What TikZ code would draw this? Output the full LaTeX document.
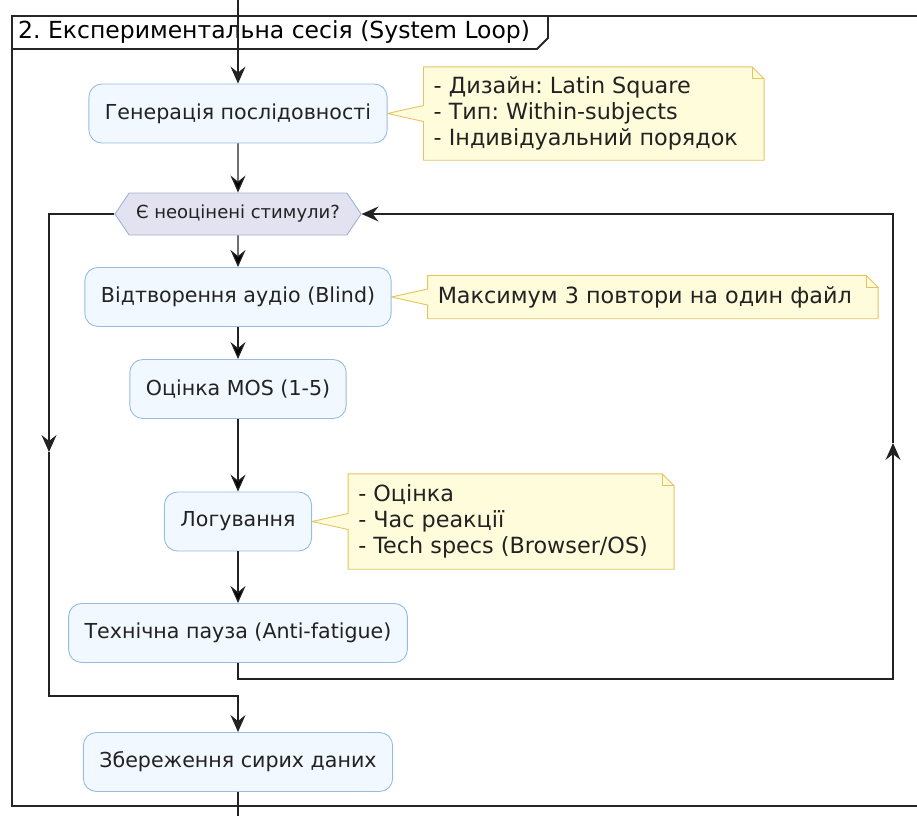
\documentclass[tikz,border=0pt]{standalone}
\usepackage{fontspec}
\setmainfont{DejaVu Sans}
\usetikzlibrary{arrows.meta,positioning,shapes.symbols,calc,backgrounds}
\frenchspacing

\definecolor{actfill}{HTML}{F1F8FF}
\definecolor{actline}{HTML}{98BCE0}
\definecolor{condfill}{HTML}{E2E2F0}
\definecolor{condline}{HTML}{A0B2D6}
\definecolor{notefill}{HTML}{FEFCDA}
\definecolor{noteline}{HTML}{E6C462}
\definecolor{inkline}{HTML}{222222}

% note with folded corner and a wedge pointing to its activity
\newcommand{\notebox}[2]{%
  \draw[noteshape]
    (#1.north west) -- ($(#1.north east)+(4,0)$) -- ($(#1.north east)+(16,12)$)
    -- ($(#1.south east)+(16,0)$) -- (#1.south west)
    -- ($(#1.west)+(0,8)$) -- (#2.east) -- ($(#1.west)+(0,-8)$) -- cycle;
  \draw[noteshape, fill=none] ($(#1.north east)+(4,0)$) |- ($(#1.north east)+(16,12)$);
}

\begin{document}
\begin{tikzpicture}
  [x=1pt, y=-1pt,
    font=\fontsize{20.6}{24}\selectfont,
    activity/.style={
      rectangle, rounded corners=13pt, draw=actline, fill=actfill, on grid,
      line width=0.9pt, minimum height=59pt, inner xsep=16pt, text=inkline
    },
    cond/.style={
      signal, signal to=west and east, signal pointer angle=112, on grid,
      draw=condline, fill=condfill, line width=0.9pt,
      minimum height=42pt, inner xsep=7pt, text=inkline,
      font=\fontsize{18}{21}\selectfont
    },
    note/.style={
      align=left, inner xsep=10pt, inner ysep=4pt, text=inkline,
      font=\fontsize{22.3}{25.7}\selectfont
    },
    noteshape/.style={draw=noteline, fill=notefill, line width=0.9pt},
    flow/.style={-{Stealth[length=17pt, width=15pt, inset=6pt]}, line width=1.3pt, draw=inkline},
    wire/.style={line width=1.3pt, draw=inkline},
    frame/.style={line width=1.8pt, draw=black!85},
  ]
  \useasboundingbox (0,0) rectangle (917,816);
  \clip (0,0) rectangle (917,816);

  % Frame of the session
  \draw[frame] (960,16) -- (12,16) -- (12,806) -- (960,806);
  \draw[frame] (12,49) -- (537,49) -- (548,38) -- (548,16);
  \node[anchor=west, inner sep=0pt, font=\fontsize{23.5}{27}\selectfont] (title) at (18,32.5)
    {2. Експериментальна сесія (System Loop)};

  % Activities
  \node[activity] (gen) at (238,113.5) {Генерація послідовності};
  \node[cond] (unrated) [below=100.5pt of gen] {Є неоцінені стимули?};
  \node[activity] (play) [below=83pt of unrated] {Відтворення аудіо (Blind)};
  \node[activity] (rate) [below=92pt of play] {Оцінка MOS (1-5)};
  \node[activity] (logging) [below=132.5pt of rate] {Логування};
  \node[activity] (pause) [below=111.5pt of logging] {Технічна пауза (Anti-fatigue)};
  \node[activity] (store) [below=129pt of pause] {Збереження сирих даних};

  % Notes
  \node[note, minimum height=93pt] (genNote) [right=36pt of gen]
    {- Дизайн: Latin Square\\- Тип: Within-subjects\\- Індивідуальний порядок};
  \node[note, minimum height=43pt] (playNote) [right=36pt of play]
    {Максимум 3 повтори на один файл};
  \node[note, minimum height=95pt] (logNote) [right=36pt of logging]
    {- Оцінка\\- Час реакції\\- Tech specs (Browser/OS)};
  \begin{scope}[on background layer]
    \notebox{genNote}{gen}
    \notebox{playNote}{play}
    \notebox{logNote}{logging}
  \end{scope}

  % Input and output arrows
  \coordinate (entry) at (238,0);
  \coordinate (exit) at (238,816);
  \draw[flow] (entry) -- (gen);
  \draw[wire] (store) -- (exit);

  % Edges between activities
  \path[flow]
  (gen) edge (unrated)
  (unrated) edge (play)
  (play) edge (rate)
  (rate) edge (logging)
  (logging) edge (pause);

  % Loop back and loop exit
  \coordinate (leftDown) at (49,452);
  \coordinate (rightUp) at (893,443);
  \draw[flow] (unrated.west) -| (leftDown);
  \draw[flow] (leftDown) |- ([yshift=36pt]store.north) -- (store.north);
  \draw[flow] (pause.south) -- ([yshift=-16pt]pause.south) -| (rightUp);
  \draw[flow] (rightUp) |- (unrated.east);
\end{tikzpicture}
\end{document}
